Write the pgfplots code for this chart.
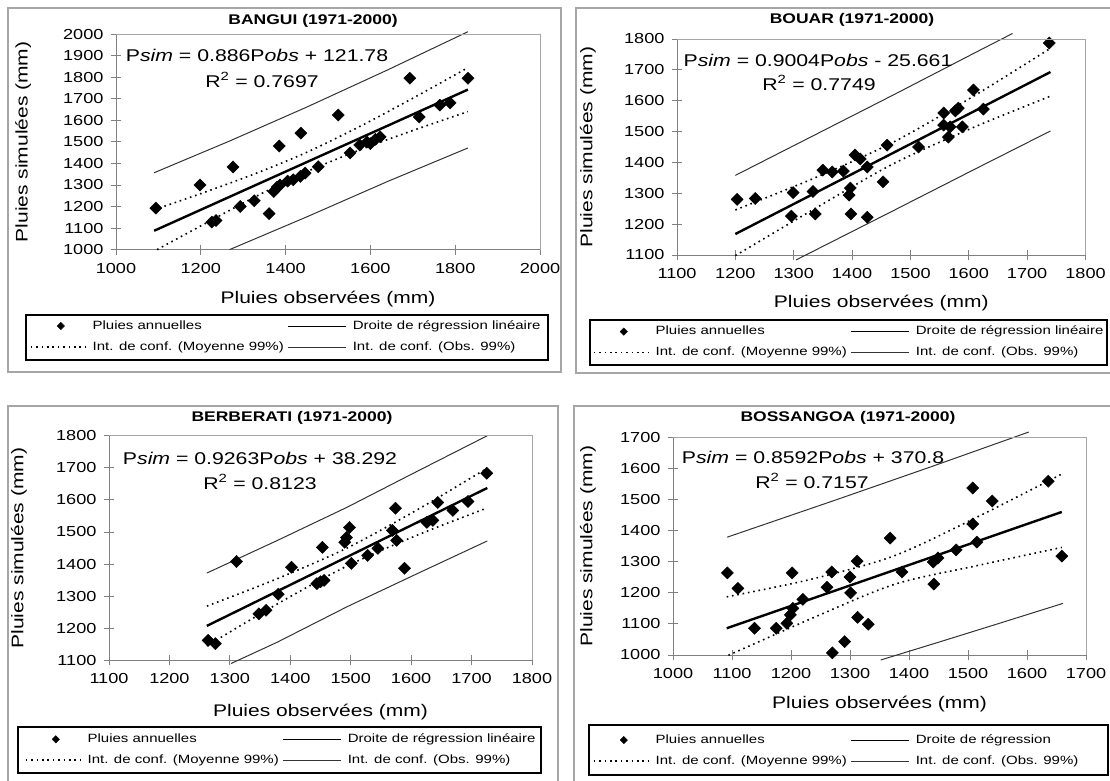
\documentclass[border=0pt]{standalone}
\usepackage{fontspec}
\setmainfont{Liberation Sans}[FakeStretch=1.25]
\usepackage{pgfplots}
\pgfplotsset{compat=1.18}
\newcommand\tickfont{\fontsize{14.5}{16}\selectfont}
\newcommand\labfont{\fontsize{16.8}{19}\selectfont}
\newcommand\legfont{\fontsize{12}{14}\selectfont}
\newcommand\eqfont{\fontsize{17}{19}\selectfont}
\newcommand\titfont{\fontsize{14}{16}\selectfont\bfseries}

\pgfplotsset{
  panel/.style={
    scale only axis, clip=false,
    axis lines=left, axis line style={-, draw=black!50, line width=0.9pt},
    tick align=center, major tick length=10pt,
    tick style={draw=black!50, line width=0.9pt},
    tick label style={font=\tickfont, text=black},
    yticklabel style={xshift=-4pt},
    xticklabel style={yshift=-5pt},
    /pgf/number format/assume math mode=true,
    /pgf/number format/1000 sep={},
    x label style={font=\labfont, anchor=center},
    y label style={font=\labfont, anchor=center},
    xlabel={Pluies observées (mm)}, ylabel={Pluies simulées (mm)},
    legend columns=2, legend cell align=left,
    legend style={draw=none, fill=none, inner sep=0pt, outer sep=0pt,
      anchor=north west, font=\legfont, row sep=9pt,
      nodes={inner sep=0pt, text height=9pt, text depth=3pt},
      /tikz/every odd column/.append style={column sep=6pt},
      /tikz/every even column/.append style={column sep=4pt}},
    after end axis/.code={\draw[black!35, line width=0.9pt]
      (rel axis cs:0,1) -- (rel axis cs:1,1) -- (rel axis cs:1,0);},
  },
  pts/.style={only marks, mark=square*, mark size=4.3pt,
    mark options={black, rotate=45},
    legend image code/.code={\draw[##1, mark size=2.6pt] plot coordinates {(30pt,0pt)};}},
  reg/.style={black, line width=2.4pt, no marks,
    legend image code/.code={\draw[black, line width=1pt] (0pt,0pt) -- (58pt,0pt);}},
  mci/.style={black, line width=1.6pt, dash pattern=on 1.6pt off 3.8pt, no marks, smooth,
    legend image code/.code={\draw[##1] (0pt,0pt) -- (55pt,0pt);}},
  oci/.style={black!80, line width=1pt, no marks,
    legend image code/.code={\draw[##1] (0pt,0pt) -- (58pt,0pt);}},
}

\begin{document}
\begin{tikzpicture}[x=1pt,y=1pt]
\useasboundingbox (0,0) rectangle (1110,780);
\fill[white] (0,0) rectangle (1110,780);

% outer frames and legend boxes
\draw[black!35, line width=1.5pt] (8,772) rectangle (561,408);
\draw[black!35, line width=1.5pt] (576,772) rectangle (1116,407);
\draw[black!35, line width=1.5pt] (8,374) rectangle (558,-10);
\draw[black!35, line width=1.5pt] (574,374) rectangle (1116,-10);
\draw[black, line width=1.2pt] (26,465) rectangle (548,420);
\draw[black, line width=1.2pt] (590,460) rectangle (1107,415);
\draw[black, line width=1.2pt] (18,53) rectangle (541,7);
\draw[black, line width=1.2pt] (589,55) rectangle (1108,5);

% BANGUI
\begin{axis}[panel, at={(116pt,530.4pt)}, anchor=south west,
  width=424pt, height=215.3pt,
  xmin=1000, xmax=2000, ymin=1000, ymax=2000,
  xtick={1000,1200,...,2000}, ytick={1000,1100,...,2000},
  xlabel style={at={(axis description cs:0.5,-0.231)}},
  ylabel style={at={(axis description cs:-0.219,0.5)}},
  legend style={at={(axis description cs:-0.2028,-0.327)}}]
\addplot[pts] coordinates {(1094,1193) (1198,1300) (1226,1128) (1236,1135) (1276,1384)
  (1293,1200) (1326,1227) (1361,1167) (1372,1270) (1380,1290) (1385,1481) (1387,1300)
  (1405,1318) (1418,1324) (1435,1340) (1436,1541) (1446,1355) (1477,1385) (1524,1625)
  (1552,1449) (1575,1486) (1592,1500) (1600,1492) (1612,1512) (1623,1524) (1693,1796)
  (1715,1616) (1764,1671) (1788,1681) (1830,1796)};
\addplot[reg] coordinates {(1090,1087.5) (1830,1743.2)};
\addplot[mci] coordinates {(1090,1185) (1200,1260) (1330,1354) (1450,1452) (1580,1577) (1700,1703) (1830,1845)};
\addplot[oci] coordinates {(1090,1357) (1270,1506) (1450,1662) (1640,1834) (1830,2012)};
\addplot[mci, forget plot] coordinates {(1097,1000) (1200,1110) (1330,1247) (1450,1362) (1580,1467) (1700,1553) (1830,1641)};
\addplot[oci, forget plot] coordinates {(1268,1000) (1450,1152) (1640,1316) (1830,1472)};
\legend{Pluies annuelles, Droite de régression linéaire, Int. de conf. (Moyenne 99\%), Int. de conf. (Obs. 99\%)}
\end{axis}

% BOUAR
\begin{axis}[panel, at={(677pt,525pt)}, anchor=south west,
  width=408.5pt, height=216pt,
  xmin=1100, xmax=1800, ymin=1100, ymax=1800,
  xtick={1100,1200,...,1800}, ytick={1100,1200,...,1800},
  xlabel style={at={(axis description cs:0.5,-0.222)}},
  ylabel style={at={(axis description cs:-0.218,0.5)}},
  legend style={at={(axis description cs:-0.2056,-0.327)}}]
\addplot[pts] coordinates {(1203,1280) (1234,1283) (1296,1226) (1299,1302) (1333,1306)
  (1337,1233) (1350,1375) (1366,1369) (1385,1372) (1395,1294) (1397,1317) (1398,1233)
  (1405,1424) (1414,1411) (1426,1222) (1426,1385) (1453,1337) (1460,1456) (1514,1450)
  (1557,1560) (1557,1521) (1565,1482) (1568,1515) (1577,1567) (1582,1576) (1589,1515)
  (1608,1635) (1625,1573) (1738,1787)};
\addplot[reg] coordinates {(1200,1168) (1740,1693)};
\addplot[mci] coordinates {(1200,1246) (1335,1349) (1470,1465) (1605,1611) (1740,1770)};
\addplot[oci] coordinates {(1200,1358) (1335,1488) (1470,1618) (1605,1750) (1675,1818)};
\addplot[mci, forget plot] coordinates {(1200,1098) (1335,1249) (1470,1395) (1605,1511) (1740,1615)};
\addplot[oci, forget plot] coordinates {(1304,1084) (1470,1243) (1605,1373) (1740,1502)};
\legend{Pluies annuelles, Droite de régression linéaire, Int. de conf. (Moyenne 99\%), Int. de conf. (Obs. 99\%)}
\end{axis}

% BERBERATI
\begin{axis}[panel, at={(109pt,119.7pt)}, anchor=south west,
  width=423pt, height=224.6pt,
  xmin=1100, xmax=1800, ymin=1100, ymax=1800,
  xtick={1100,1200,...,1800}, ytick={1100,1200,...,1800},
  xlabel style={at={(axis description cs:0.5,-0.232)}},
  ylabel style={at={(axis description cs:-0.213,0.5)}},
  legend style={at={(axis description cs:-0.1986,-0.325)}}]
\addplot[pts] coordinates {(1264,1162) (1276,1152) (1311,1408) (1348,1245) (1360,1256)
  (1380,1306) (1402,1390) (1444,1339) (1450,1345) (1456,1349) (1453,1452) (1490,1468)
  (1493,1483) (1498,1514) (1501,1402) (1528,1427) (1545,1449) (1569,1505) (1574,1574)
  (1576,1474) (1589,1387) (1626,1530) (1636,1536) (1644,1592) (1669,1567) (1694,1595)
  (1725,1683)};
\addplot[reg] coordinates {(1262,1207.3) (1726,1637.1)};
\addplot[mci] coordinates {(1262,1269) (1378,1354) (1494,1450) (1610,1569) (1726,1699)};
\addplot[oci] coordinates {(1262,1372) (1378,1473) (1494,1577) (1610,1689) (1726,1800)};
\addplot[mci, forget plot] coordinates {(1262,1145) (1378,1275) (1494,1394) (1610,1490) (1726,1575)};
\addplot[oci, forget plot] coordinates {(1302,1090) (1378,1156) (1494,1267) (1610,1370) (1726,1472)};
\legend{Pluies annuelles, Droite de régression linéaire, Int. de conf. (Moyenne 99\%), Int. de conf. (Obs. 99\%)}
\end{axis}

% BOSSANGOA
\begin{axis}[panel, at={(673pt,125pt)}, anchor=south west,
  width=413pt, height=217.7pt,
  xmin=1000, xmax=1700, ymin=1000, ymax=1700,
  xtick={1000,1100,...,1700}, ytick={1000,1100,...,1700},
  xlabel style={at={(axis description cs:0.5,-0.225)}},
  ylabel style={at={(axis description cs:-0.206,0.5)}},
  legend style={at={(axis description cs:-0.1937,-0.363)}}]
\addplot[pts] coordinates {(1092,1264) (1110,1214) (1138,1086) (1175,1086) (1193,1102)
  (1199,1129) (1202,1264) (1203,1150) (1220,1179) (1261,1218) (1269,1267) (1270,1007)
  (1291,1043) (1300,1251) (1301,1200) (1312,1302) (1313,1121) (1331,1099) (1368,1376)
  (1388,1267) (1441,1299) (1442,1228) (1449,1312) (1480,1338) (1508,1421) (1508,1537)
  (1515,1363) (1541,1495) (1636,1559) (1659,1318)};
\addplot[reg] coordinates {(1091,1086) (1659,1460)};
\addplot[mci] coordinates {(1091,1187) (1233,1243) (1375,1319) (1517,1445) (1659,1582)};
\addplot[oci] coordinates {(1092,1379) (1275,1498) (1440,1607) (1603,1717)};
\addplot[mci, forget plot] coordinates {(1094,999) (1233,1116) (1375,1227) (1517,1288) (1659,1346)};
\addplot[oci, forget plot] coordinates {(1352,984) (1450,1041) (1550,1100) (1661,1166)};
\legend{Pluies annuelles, Droite de régression, Int. de conf. (Moyenne 99\%), Int. de conf. (Obs. 99\%)}
\end{axis}

% titles and equations
\node[font=\titfont] at (313,759) {BANGUI (1971-2000)};
\node[font=\titfont] at (852,760) {BOUAR (1971-2000)};
\node[font=\titfont] at (292,362) {BERBERATI (1971-2000)};
\node[font=\titfont] at (848,362) {BOSSANGOA (1971-2000)};
\node[font=\eqfont] at (257,725) {P\textit{sim} = 0.886P\textit{obs} + 121.78};
\node[font=\eqfont] at (262,700) {R\textsuperscript{2} = 0.7697};
\node[font=\eqfont] at (818,720) {P\textit{sim} = 0.9004P\textit{obs} - 25.661};
\node[font=\eqfont] at (819,697) {R\textsuperscript{2} = 0.7749};
\node[font=\eqfont] at (260,322) {P\textit{sim} = 0.9263P\textit{obs} + 38.292};
\node[font=\eqfont] at (260,298) {R\textsuperscript{2} = 0.8123};
\node[font=\eqfont] at (813,323) {P\textit{sim} = 0.8592P\textit{obs} + 370.8};
\node[font=\eqfont] at (812,299) {R\textsuperscript{2} = 0.7157};
\end{tikzpicture}
\end{document}
